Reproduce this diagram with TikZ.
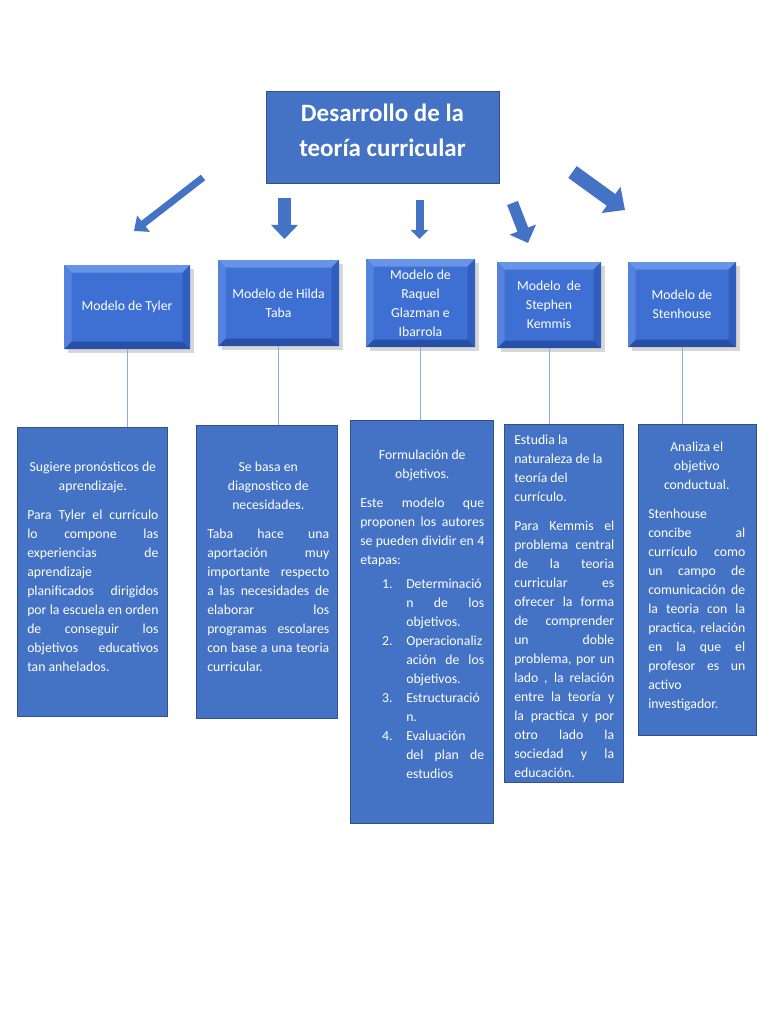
\documentclass[tikz,border=0pt]{standalone}
\usepackage{fontspec}
\setmainfont{Carlito}
\usepackage{enumitem}
\usetikzlibrary{arrows.meta, shadows, positioning}

\definecolor{boxblue}{RGB}{68,114,196}
\definecolor{boxline}{RGB}{47,82,143}
\definecolor{bevface}{RGB}{62,112,212}
\definecolor{bevtop}{RGB}{104,148,232}
\definecolor{bevleft}{RGB}{84,130,222}
\definecolor{bevright}{RGB}{48,94,190}
\definecolor{bevbottom}{RGB}{40,80,168}
\definecolor{linkblue}{RGB}{143,170,220}

\tikzset{
  titlebox/.style={draw=boxline, fill=boxblue, line width=0.6pt, inner sep=0pt},
  titulotxt/.style={text=white, font={\fontsize{20pt}{28pt}\selectfont\bfseries}, align=center, inner sep=0pt},
  modelo/.style={fill=bevface, text=white, align=center, inner sep=0pt,
    font={\fontsize{11pt}{15.2pt}\selectfont},
    drop shadow={shadow xshift=3.5pt, shadow yshift=-3.5pt, opacity=0.22, fill=black!70},
    path picture={
      \fill[bevtop] (path picture bounding box.north west) -- (path picture bounding box.north east)
        -- ([shift={(-6pt,-6pt)}]path picture bounding box.north east) -- ([shift={(6pt,-6pt)}]path picture bounding box.north west) -- cycle;
      \fill[bevbottom] (path picture bounding box.south west) -- (path picture bounding box.south east)
        -- ([shift={(-6pt,6pt)}]path picture bounding box.south east) -- ([shift={(6pt,6pt)}]path picture bounding box.south west) -- cycle;
      \fill[bevleft] (path picture bounding box.north west) -- (path picture bounding box.south west)
        -- ([shift={(6pt,6pt)}]path picture bounding box.south west) -- ([shift={(6pt,-6pt)}]path picture bounding box.north west) -- cycle;
      \fill[bevright] (path picture bounding box.north east) -- (path picture bounding box.south east)
        -- ([shift={(-6pt,6pt)}]path picture bounding box.south east) -- ([shift={(-6pt,-6pt)}]path picture bounding box.north east) -- cycle;
    }},
  cuadro/.style={draw=boxline, fill=boxblue, line width=0.7pt, inner sep=0pt},
  texto/.style={text=white, align=justify, inner sep=0pt, anchor=base west,
    font={\fontsize{11pt}{15.2pt}\selectfont\hyphenpenalty=10000\tolerance=10000\hbadness=10000}},
  enlace/.style={linkblue, line width=0.6pt},
  flecha/.style n args={3}{draw=boxblue, line width=#1, arrows={-Triangle[width=#2, length=#3]}}
}

\begin{document}
\begin{tikzpicture}[x=0.8pt, y=-0.8pt]
\useasboundingbox[fill=white] (0,0) rectangle (768,1024);

% titulo
\node[titlebox, minimum width=186.4pt, minimum height=73.6pt] (titulo) at (382.5,137) {};
\node[titulotxt] (tituloTxt) at ([yshift=5.6pt]titulo.center) {Desarrollo de la\\teoría curricular};

% flechas
\coordinate (f1a) at (203,177.5); \coordinate (f1b) at (134,231);
\coordinate (f2a) at (284.5,198); \coordinate (f2b) at (284.5,239);
\coordinate (f3a) at (419.5,200); \coordinate (f3b) at (419.5,239);
\coordinate (f4a) at (512.5,203); \coordinate (f4b) at (528,243);
\coordinate (f5a) at (572.5,172); \coordinate (f5b) at (625,210);
\draw[flecha={5.6pt}{16pt}{9.6pt}] (f1a) -- (f1b);
\draw[flecha={10.4pt}{20.8pt}{11.2pt}] (f2a) -- (f2b);
\draw[flecha={6.4pt}{13.6pt}{7.2pt}] (f3a) -- (f3b);
\draw[flecha={9.2pt}{22pt}{11.5pt}] (f4a) -- (f4b);
\draw[flecha={11.6pt}{25pt}{13.8pt}] (f5a) -- (f5b);

% modelos
\node[modelo, minimum width=100.8pt, minimum height=67.2pt] (tyler) at (127,307) {Modelo de Tyler};
\node[modelo, minimum width=96.8pt, minimum height=68.8pt] (taba) at (278.5,303) {Modelo de Hilda\\Taba};
\node[modelo, minimum width=87.2pt, minimum height=70.4pt] (raquel) at (420.5,303) {Modelo de\\Raquel\\Glazman e\\Ibarrola};
\node[modelo, minimum width=83.2pt, minimum height=68.8pt] (kemmis) at (549,305) {Modelo\ \ de\\Stephen\\Kemmis};
\node[modelo, minimum width=86.4pt, minimum height=68pt] (stenhouse) at (682,304.5) {Modelo de\\Stenhouse};

% cuadros
\node[cuadro, minimum width=120pt, minimum height=231.2pt] (tylerBox) at (92,571.5) {};
\node[cuadro, minimum width=112.8pt, minimum height=234.4pt] (tabaBox) at (266.5,571.5) {};
\node[cuadro, minimum width=114.4pt, minimum height=322.4pt] (raquelBox) at (421.5,621.5) {};
\node[cuadro, minimum width=95.2pt, minimum height=286.4pt] (kemmisBox) at (563.5,603) {};
\node[cuadro, minimum width=94.4pt, minimum height=248.8pt] (stenhouseBox) at (697,579.5) {};

% lineas
\draw[enlace] (tyler.south) -- (tyler.south |- tylerBox.north);
\draw[enlace] (taba.south) -- (taba.south |- tabaBox.north);
\draw[enlace] (raquel.south) -- (raquel.south |- raquelBox.north);
\draw[enlace] (kemmis.south) -- (kemmis.south |- kemmisBox.north);
\draw[enlace] (stenhouse.south) -- (stenhouse.south |- stenhouseBox.north);

% textos
\node[texto, text width=105pt] (tylerTxt) at (27,471) {{\centering Sugiere pronósticos de\linebreak aprendizaje.\par}\vspace{8pt}Para Tyler el currículo\linebreak lo compone las\linebreak experiencias de\linebreak aprendizaje\linebreak planificados dirigidos\linebreak por la escuela en orden\linebreak de conseguir los\linebreak objetivos educativos\linebreak tan anhelados.};
\node[texto, text width=97.6pt] (tabaTxt) at (207,471) {{\centering Se basa en\linebreak diagnostico de\linebreak necesidades.\par}\vspace{8pt}Taba hace una\linebreak aportación muy\linebreak importante respecto\linebreak a las necesidades de\linebreak elaborar los\linebreak programas escolares\linebreak con base a una teoria\linebreak curricular.};
\node[texto, text width=99.2pt] (raquelTxt) at (360,459) {{\centering Formulación de\linebreak objetivos.\par}\vspace{8pt}Este modelo que\linebreak proponen los autores\linebreak se pueden dividir en 4\linebreak etapas:
  \begin{enumerate}[leftmargin=36.8pt, labelsep=11pt, itemsep=0pt, parsep=0pt, topsep=4pt, partopsep=0pt]
    \item Determinació\linebreak n de los\linebreak objetivos.
    \item Operacionaliz\linebreak ación de los\linebreak objetivos.
    \item Estructuració\linebreak n.
    \item Evaluación\linebreak del plan de\linebreak estudios
  \end{enumerate}};
\node[texto, text width=80pt] (kemmisTxt) at (514,444) {{\raggedright Estudia la\linebreak naturaleza de la\linebreak teoría del\linebreak currículo.\par}\vspace{8pt}Para Kemmis el\linebreak problema central\linebreak de la teoria\linebreak curricular es\linebreak ofrecer la forma\linebreak de comprender\linebreak un doble\linebreak problema, por un\linebreak lado , la relación\linebreak entre la teoría y\linebreak la practica y por\linebreak otro lado la\linebreak sociedad y la\linebreak educación.};
\node[texto, text width=77.6pt] (stenhouseTxt) at (648,451) {{\centering Analiza el\linebreak objetivo\linebreak conductual.\par}\vspace{8pt}Stenhouse\linebreak concibe al\linebreak currículo como\linebreak un campo de\linebreak comunicación de\linebreak la teoria con la\linebreak practica, relación\linebreak en la que el\linebreak profesor es un\linebreak activo\linebreak investigador.};
\end{tikzpicture}
\end{document}
